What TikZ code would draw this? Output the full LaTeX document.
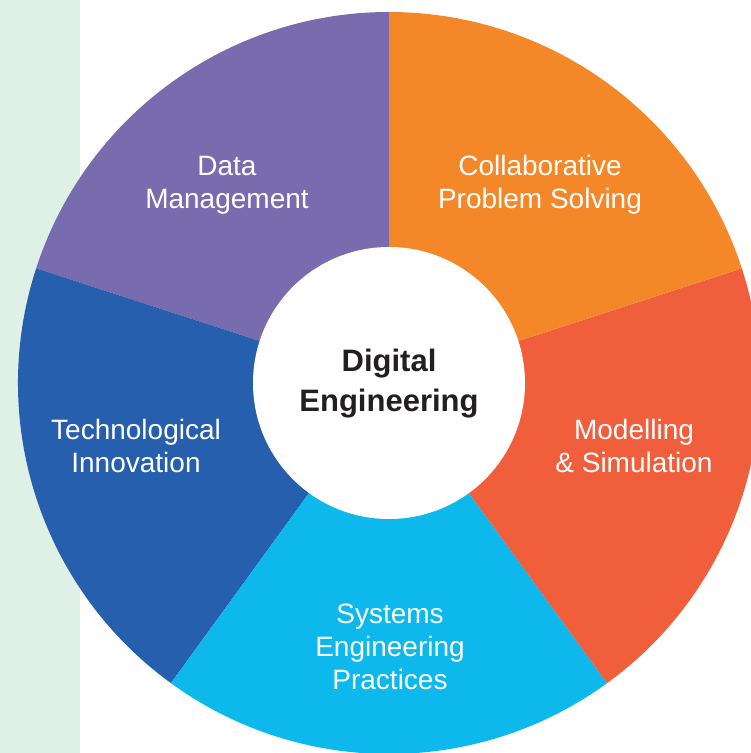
\documentclass[tikz,border=0pt]{standalone}
\usepackage{fontspec}
\setmainfont{Liberation Sans}
\usepackage{tikz}

\definecolor{stripgreen}{HTML}{DFF0E7}
\definecolor{datapurple}{HTML}{786CAE}
\definecolor{collaborange}{HTML}{F48727}
\definecolor{modelred}{HTML}{F15E3C}
\definecolor{systemscyan}{HTML}{0CB8EC}
\definecolor{techblue}{HTML}{255FAD}
\definecolor{hubtext}{HTML}{231F20}

\begin{document}
\begin{tikzpicture}[x=1pt,y=1pt,
        slice label/.style={text=white,align=center,font=\fontsize{28}{33}\selectfont},
        hub label/.style={text=hubtext,align=center,font=\bfseries\fontsize{31}{40}\selectfont}]
        \useasboundingbox (0,0) rectangle (751,753);
        \clip (0,0) rectangle (751,753);
        \fill[white] (0,0) rectangle (751,753);
        \fill[stripgreen] (0,0) rectangle (80,753);
        \coordinate (hub) at (389,370);
        % five slices of 72 degrees, starting at the top
        \fill[datapurple] (hub) -- ++(90:371pt) arc[start angle=90,end angle=162,radius=371pt] -- cycle;
        \fill[techblue] (hub) -- ++(162:371pt) arc[start angle=162,end angle=234,radius=371pt] -- cycle;
        \fill[systemscyan] (hub) -- ++(234:371pt) arc[start angle=234,end angle=306,radius=371pt] -- cycle;
        \fill[modelred] (hub) -- ++(306:371pt) arc[start angle=306,end angle=378,radius=371pt] -- cycle;
        \fill[collaborange] (hub) -- ++(18:371pt) arc[start angle=18,end angle=90,radius=371pt] -- cycle;
        % white hub
        \fill[white] (hub) circle[radius=136pt];
        \node[hub label] (digital) at (389,369) {Digital\\Engineering};
        \node[slice label] (data_mgmt) at (227,568) {Data\\Management};
        \node[slice label] (collab) at (540,568) {Collaborative\\Problem Solving};
        \node[slice label] (tech_innov) at (136,307) {Technological\\Innovation};
        \node[slice label] (model_sim) at (634,307) {Modelling\\\& Simulation};
        \node[slice label] (sys_eng) at (390,106) {Systems\\Engineering\\Practices};
\end{tikzpicture}
\end{document}
